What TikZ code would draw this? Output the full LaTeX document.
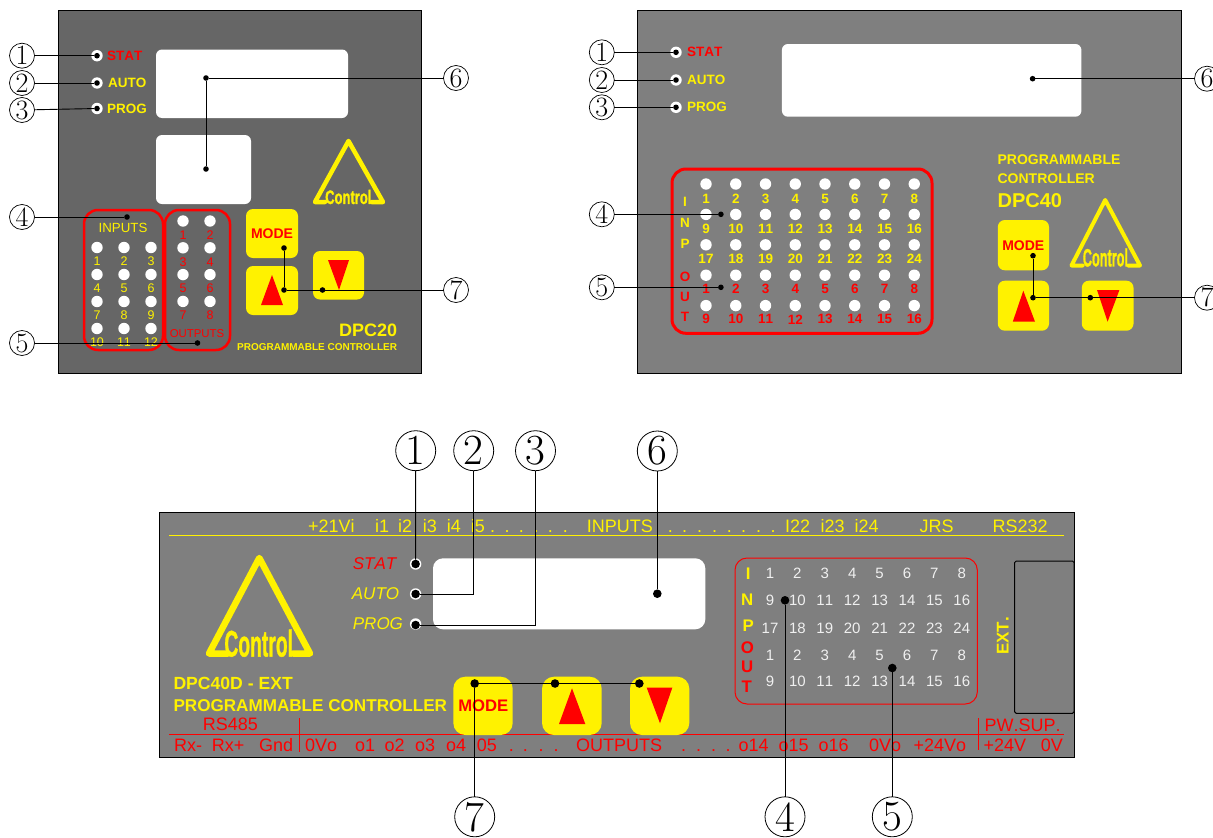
\documentclass[tikz,border=0pt]{standalone}
\usepackage{fontspec}
\setsansfont{Liberation Sans}[Kerning=Off]
\newfontfamily\logofont{Liberation Sans Bold}[FakeBold=1.2]
\usetikzlibrary{positioning}
\newcommand{\panelfs}[1]{\fontsize{#1}{#1}\selectfont}
\definecolor{darkpanel}{HTML}{666666}
\definecolor{midpanel}{HTML}{7F7F7F}
\definecolor{softwhite}{HTML}{F0F0F0}

\begin{document}
\begin{tikzpicture}[
        x=1pt, y=-1pt,
        panel/.style={draw=black, line width=1pt, inner sep=0pt, outer sep=0pt, anchor=north west},
        display/.style={fill=white, rounded corners=6pt, inner sep=0pt, outer sep=0pt, anchor=north west},
        keycap/.style={fill=yellow, rounded corners=7pt, inner sep=0pt, outer sep=0pt, anchor=north west},
        redbox/.style={draw=red, rounded corners=14pt, inner sep=0pt, outer sep=0pt, anchor=north west},
        led/.style={circle, fill=white, minimum size=11.4pt, inner sep=0pt, outer sep=0pt},
        dot/.style={circle, fill=black, minimum size=5.6pt, inner sep=0pt, outer sep=0pt},
        bigdot/.style={circle, fill=black, minimum size=8.6pt, inner sep=0pt, outer sep=0pt},
        callout/.style={circle, draw=black, line width=0.7pt, fill=white, minimum size=25pt, inner sep=0pt, outer sep=0pt, font=\rmfamily\panelfs{28}},
        bigcallout/.style={circle, draw=black, line width=0.8pt, fill=white, minimum size=40pt, inner sep=0pt, outer sep=0pt, font=\rmfamily\panelfs{43}},
        leader/.style={draw=black, line width=0.9pt},
        logotri/.style={draw=yellow, line join=round, line cap=round},
        logotext/.style={text=yellow, inner sep=0pt, font=\logofont},
        boldlabel/.style={inner sep=0pt, anchor=west, text=yellow, font=\sffamily\bfseries\panelfs{13.5}},
        numlabel/.style={inner sep=0pt, font=\sffamily\panelfs{12.5}},
        boldnum/.style={inner sep=0pt, font=\sffamily\bfseries\panelfs{13.5}},
        modelabel/.style={inner sep=0pt, text=red, font=\sffamily\bfseries\panelfs{14}},
        stripyellow/.style={inner sep=0pt, anchor=base west, text=yellow, font=\sffamily\panelfs{18}},
        stripred/.style={inner sep=0pt, anchor=base west, text=red, font=\sffamily\panelfs{18}},
        italiclabel/.style={inner sep=0pt, anchor=west, font=\sffamily\itshape\panelfs{17}}
    ]
    \useasboundingbox (0,0) rectangle (1213,838);

    % DPC20
    \node[panel, fill=darkpanel, minimum width=363.5pt, minimum height=362.5pt] (apanel) at (58,10.5) {};
    \node[display, minimum width=192pt, minimum height=68.5pt] (adisp1) at (156,49.5) {};
    \node[display, minimum width=95pt, minimum height=69pt] (adisp2) at (156,135) {};

    \foreach \key/\yy/\clr/\xx [count=\i from 1] in {STAT/55.7/red/107, AUTO/83/yellow/108, PROG/108.5/yellow/107} {
        \node[led] (aled\i) at (97,\yy) {};
        \node[boldlabel, text=\clr] (atag\i) at (\xx,\yy) {\key};
    }

    \draw[logotri, line width=4.5pt] (325,202) -- (315,202) -- (348.5,141) -- (383,202) -- (371.7,202);
    \node[logotext] (alogo) at (348.3,197) {\scalebox{1.3}[1.95]{Control}};

    \node[redbox, line width=2.5pt, minimum width=79pt, minimum height=140pt] (ainbox) at (84,210) {};
    \node[redbox, line width=2.5pt, minimum width=65pt, minimum height=140pt] (aoutbox) at (165,210) {};
    \node[numlabel, text=yellow, font=\sffamily\panelfs{13.3}] (aintag) at (123,228) {INPUTS};
    \node[numlabel, text=red, font=\sffamily\panelfs{11.4}] (aouttag) at (197,334) {OUTPUTS};

    \foreach \r in {0,...,3} {
        \foreach \c in {0,1,2} {
            \pgfmathtruncatemacro{\num}{\r*3+\c+1}
            \node[led] (ain\num) at ({97+27*\c},{247.5+27*\r}) {};
            \node[numlabel, text=yellow] (ainn\num) at ({97+27*\c},{261+27*\r}) {\num};
        }
        \foreach \c in {0,1} {
            \pgfmathtruncatemacro{\num}{\r*2+\c+1}
            \node[led] (aout\num) at ({183+27*\c},{221+26.8*\r}) {};
            \node[numlabel, text=red] (aoutn\num) at ({183+27*\c},{235+26.8*\r}) {\num};
        }
    }

    \node[keycap, minimum width=52pt, minimum height=49pt] (amode) at (246,209) {};
    \node[keycap, minimum width=52pt, minimum height=49pt] (aup) at (246,266) {};
    \node[keycap, minimum width=51pt, minimum height=48.5pt] (adown) at (313,251) {};
    \node[modelabel] (amodetag) at (272,234) {MODE};
    \fill[red] (261,305) -- (283,305) -- (272,275) -- cycle;
    \fill[red] (328,260) -- (349,260) -- (339,290) -- cycle;

    \node[inner sep=0pt, anchor=east, text=yellow, font=\sffamily\bfseries\panelfs{18}] (amodel) at (397.3,330) {DPC20};
    \node[inner sep=0pt, anchor=east, text=yellow, font=\sffamily\bfseries\panelfs{10}] (adesc) at (397.3,347.3) {PROGRAMMABLE CONTROLLER};

    \foreach \n/\xx/\yy in {1/22/55.7, 2/22/83, 3/22/110, 4/22/217, 5/22/343, 6/456/78, 7/456/290} {
        \node[callout] (a\n) at (\xx,\yy) {\n};
    }
    \foreach \n/\xx/\yy in {1/97/55.7, 2/97/83, 3/97/108.5, 4/127/217, 5/197.5/343, 61/206/78, 62/206/169, 71/284/248, 72/284/290, 73/322.5/290} {
        \node[dot] (ad\n) at (\xx,\yy) {};
    }
    \foreach \n in {1,...,5} {
        \draw[leader] (a\n) -- (ad\n);
    }
    \draw[leader] (a6) -- (ad61);
    \draw[leader] (ad61) -- (ad62);
    \draw[leader] (a7) -- (ad72);
    \draw[leader] (ad71) -- (ad72);

    % DPC40
    \node[panel, fill=midpanel, minimum width=544.2pt, minimum height=362.5pt] (bpanel) at (637.3,10.5) {};
    \node[display, minimum width=299.5pt, minimum height=72.7pt] (bdisp) at (781.9,44) {};

    \foreach \key/\yy/\clr [count=\i from 1] in {STAT/52.3/red, AUTO/80/yellow, PROG/107.3/yellow} {
        \node[led] (bled\i) at (676,\yy) {};
        \node[boldlabel, text=\clr] (btag\i) at (687,\yy) {\key};
    }

    \node[redbox, line width=3pt, minimum width=260pt, minimum height=164.3pt] (bbox) at (672,169) {};
    \foreach \key/\yy/\clr [count=\i from 1] in {I/202/yellow, N/223.3/yellow, P/244/yellow, O/276.7/red, U/296.7/red, T/317.3/red} {
        \node[boldnum, text=\clr] (bside\i) at (685,\yy) {\key};
    }
    \foreach \r/\first/\clr in {0/1/yellow, 1/9/yellow, 2/17/yellow, 3/1/red, 4/9/red} {
        \foreach \c in {0,...,7} {
            \pgfmathtruncatemacro{\num}{\first+\c}
            \node[led] (bl\r\c) at ({706+29.75*\c},{184+30.4*\r}) {};
            \node[boldnum, text=\clr] (bn\r\c) at ({706+29.75*\c},{198.5+30.2*\r}) {\num};
        }
    }

    \node[inner sep=0pt, anchor=west, text=yellow, font=\sffamily\bfseries\panelfs{14}] (bdesc1) at (997.4,160) {PROGRAMMABLE};
    \node[inner sep=0pt, anchor=west, text=yellow, font=\sffamily\bfseries\panelfs{14}] (bdesc2) at (997.4,178.7) {CONTROLLER};
    \node[inner sep=0pt, anchor=west, text=yellow, font=\sffamily\bfseries\panelfs{20}] (bmodel) at (997.4,201) {DPC40};

    \draw[logotri, line width=4pt] (1082.6,265.5) -- (1071.5,265.5) -- (1105.2,200) -- (1140,265.5) -- (1128.2,265.5);
    \node[logotext] (blogo) at (1105.4,257.5) {\scalebox{1.27}[2.5]{Control}};

    \node[keycap, minimum width=51.2pt, minimum height=50.3pt] (bmode) at (997.8,220) {};
    \node[keycap, minimum width=51.2pt, minimum height=50pt] (bup) at (997.8,280.7) {};
    \node[keycap, minimum width=51.7pt, minimum height=50pt] (bdown) at (1081.8,280.7) {};
    \node[modelabel] (bmodetag) at (1023.3,245.7) {MODE};
    \fill[red] (1012.8,321.7) -- (1035,321.7) -- (1023.3,290.7) -- cycle;
    \fill[red] (1097,290) -- (1119.4,290) -- (1107.6,321.7) -- cycle;

    \foreach \n/\xx/\yy in {1/601.8/52.3, 2/601.8/80, 3/601.8/107.3, 4/601.8/214.3, 5/601.8/287.3, 6/1207/78.7, 7/1207/297.7} {
        \node[callout] (b\n) at (\xx,\yy) {\n};
    }
    \foreach \n/\xx/\yy in {1/676/52.3, 2/676/80, 3/676/107.3, 4/720.9/214.3, 5/720.9/287.3, 6/1032.6/78.7, 71/1033/255.7, 72/1033/297.7, 73/1090.3/297.7} {
        \node[dot] (bd\n) at (\xx,\yy) {};
    }
    \foreach \n in {1,...,6} {
        \draw[leader] (b\n) -- (bd\n);
    }
    \draw[leader] (b7) -- (bd72);
    \draw[leader] (bd71) -- (bd72);

    % DPC40D - EXT
    \node[panel, fill=midpanel, minimum width=915pt, minimum height=245pt] (cpanel) at (159,512.3) {};
    \node[display, rounded corners=10pt, minimum width=272.3pt, minimum height=71pt] (cdisp) at (433,558.3) {};
    \node[panel, rounded corners=1.5pt, minimum width=59.3pt, minimum height=152.3pt] (cext) at (1014.7,561) {};

    \draw[yellow, line width=1pt] (169.3,535.3) -- (1064,535.3);
    \draw[red, line width=1pt] (169.3,734.3) -- (1064,734.3);
    \draw[red, line width=1pt] (299.7,718.3) -- (299.7,751.7);
    \draw[red, line width=1pt] (978.3,718.3) -- (978.3,750);

    \foreach \key/\xx [count=\i from 1] in {+21Vi/308, i1/375, i2/398, i3/422.7, i4/446.7, i5/470.7, ./490, ./504.3, ./518.6, ./533.3, ./547.6, ./562.6, INPUTS/586.7, ./667.6, ./682, ./697, ./712, ./726.6, ./741, ./756, ./770.3, I22/785, i23/820.3, i24/854.3, JRS/919.3, RS232/992.3} {
        \node[stripyellow] (ctop\i) at (\xx,532) {\key};
    }
    \foreach \key/\xx [count=\i from 1] in {Rx-/174, Rx+/211.7, Gnd/259, 0Vo/305, o1/355, o2/384.3, o3/415, o4/446, 05/476.7, ./508.6, ./522.6, ./538.3, ./553.3, OUTPUTS/576, ./681, ./696, ./711, ./725.3, o14/738.3, o15/778.3, o16/818.3, 0Vo/869, +24Vo/913.3, +24V/983.3, 0V/1040.7} {
        \node[stripred] (cbot\i) at (\xx,751) {\key};
    }
    \node[stripred] (crs) at (202.7,730.5) {RS485};
    \node[stripred] (cpw) at (984.3,731) {PW.SUP.};

    \foreach \key/\yy/\clr/\xx [count=\i from 1] in {STAT/563.3/red/352.7, AUTO/593.3/yellow/351.7, PROG/623.3/yellow/352.7} {
        \node[led] (cled\i) at (415.6,{\yy+0.7}) {};
        \node[italiclabel, text=\clr] (ctag\i) at (\xx,\yy) {\key};
    }

    \draw[logotri, line width=6.5pt] (228,653.5) -- (209,653.5) -- (259.3,558) -- (310,653.5) -- (293,653.5);
    \node[logotext] (clogo) at (258.7,643.3) {\scalebox{1.93}[3.7]{Control}};

    \node[inner sep=0pt, anchor=west, text=yellow, font=\sffamily\bfseries\panelfs{17.6}] (cmodel) at (173.3,683.7) {DPC40D - EXT};
    \node[inner sep=0pt, anchor=west, text=yellow, font=\sffamily\bfseries\panelfs{17.1}] (cdesc) at (173.3,706) {PROGRAMMABLE CONTROLLER};

    \node[keycap, rounded corners=12pt, minimum width=59.4pt, minimum height=58.3pt] (cmode) at (453.3,676.7) {};
    \node[keycap, rounded corners=12pt, minimum width=59.7pt, minimum height=58.3pt] (cup) at (542,676.7) {};
    \node[keycap, rounded corners=12pt, minimum width=59.3pt, minimum height=58.3pt] (cdown) at (630,676.7) {};
    \node[modelabel, font=\sffamily\bfseries\panelfs{16.7}] (cmodetag) at (483.3,706) {MODE};
    \fill[red] (559,724) -- (585.3,724) -- (572,688.3) -- cycle;
    \fill[red] (646.7,687.7) -- (672.3,687.7) -- (660,723.3) -- cycle;

    \node[redbox, line width=1pt, rounded corners=12pt, minimum width=242.3pt, minimum height=146pt] (cbox) at (735,558) {};
    \foreach \key/\xx/\yy/\clr [count=\i from 1] in {I/748.3/573.3/yellow, N/747.3/599.3/yellow, P/748.3/626/yellow, O/747.3/648/red, U/747.3/666.7/red, T/746.7/686.7/red} {
        \node[boldnum, text=\clr, font=\sffamily\bfseries\panelfs{16.8}] (cside\i) at (\xx,\yy) {\key};
    }
    \foreach \r/\first/\yy in {0/1/573.3, 1/9/600.7, 2/17/628, 3/1/655.3, 4/9/681.3} {
        \foreach \c in {0,...,7} {
            \pgfmathtruncatemacro{\num}{\first+\c}
            \node[numlabel, text=softwhite, font=\sffamily\panelfs{15}] (cn\r\c) at ({770+27.4*\c},\yy) {\num};
        }
    }
    \node[inner sep=0pt, rotate=90, text=yellow, font=\sffamily\bfseries\panelfs{17}] (cextlabel) at (1002.7,635.8) {EXT.};

    \foreach \n/\xx/\yy in {1/415.7/450.7, 2/473.7/450.7, 3/535.5/450.7, 6/657.3/451, 4/785/816.8, 5/892.3/816.8, 7/474.7/816.8} {
        \node[bigcallout] (c\n) at (\xx,\yy) {\n};
    }
    \foreach \n/\xx/\yy in {1/415.6/564, 2/415.6/594, 3/415.6/625, 6/657.3/593.7, 4/785/600.3, 5/892.3/668, 71/474.7/683.5, 72/555/683.5, 73/639.3/683.5} {
        \node[bigdot] (cd\n) at (\xx,\yy) {};
    }
    \draw[leader] (c1) -- (cd1);
    \draw[leader] (c2.south) |- (cd2);
    \draw[leader] (c3.south) |- (cd3);
    \draw[leader] (c4) -- (cd4);
    \draw[leader] (c5) -- (cd5);
    \draw[leader] (c6) -- (cd6);
    \draw[leader] (c7) -- (cd71);
    \draw[leader] (cd71) -- (cd73);
\end{tikzpicture}
\end{document}
